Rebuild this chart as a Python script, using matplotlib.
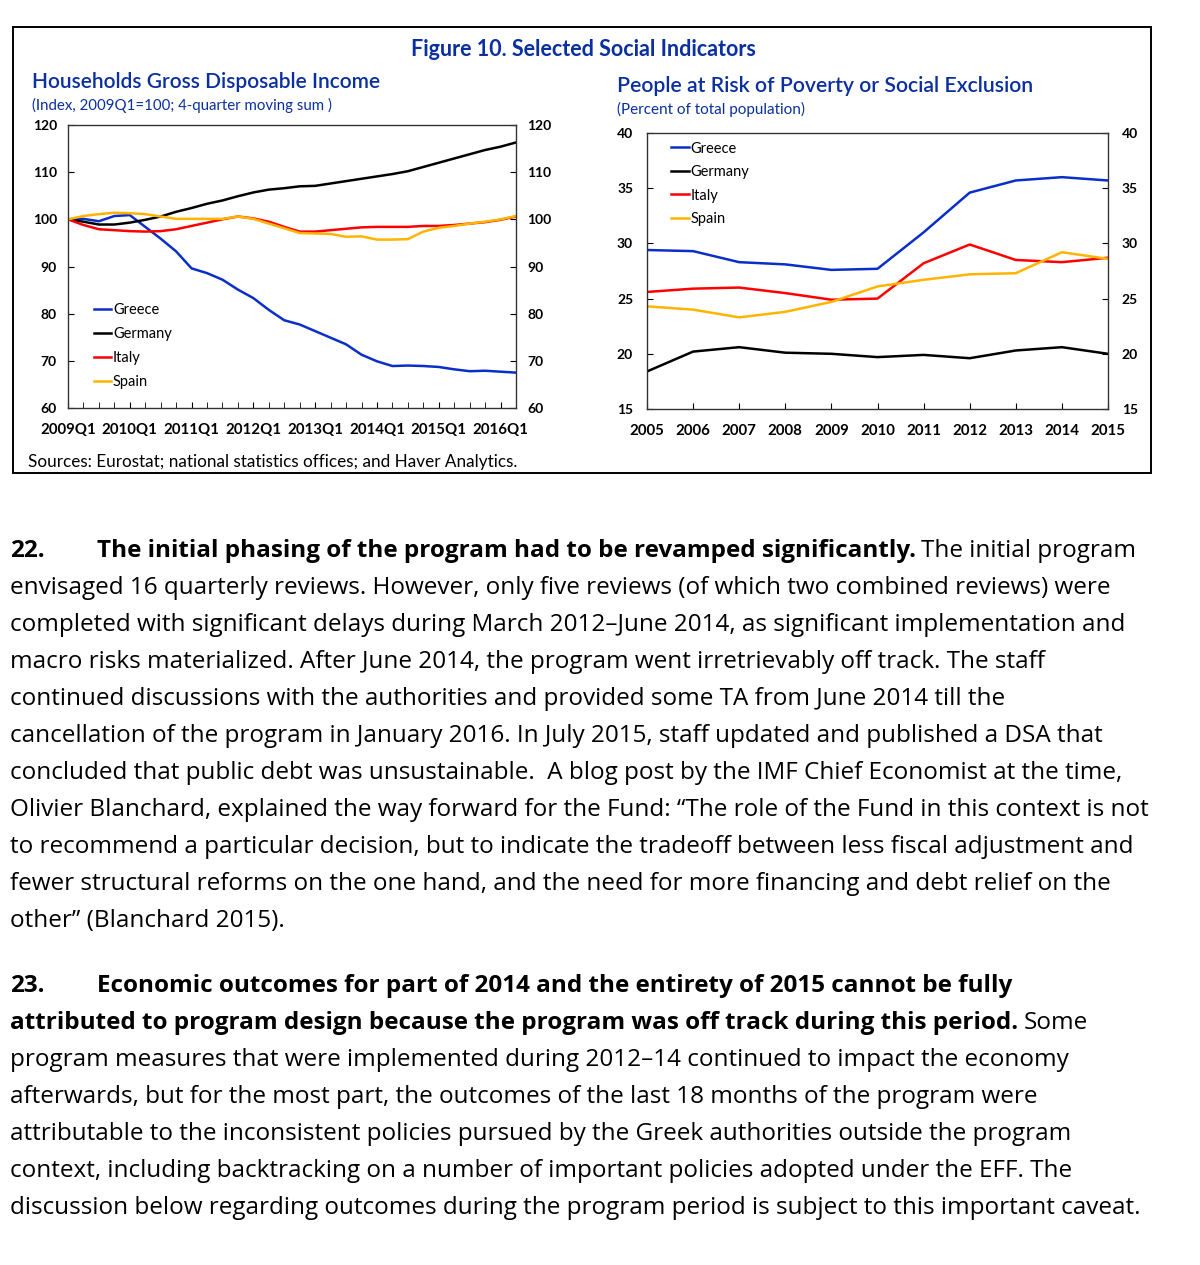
import matplotlib
matplotlib.use("Agg")
import matplotlib.pyplot as plt

# Households gross disposable income (index, 2009Q1=100), 2009Q1..2016Q2
quarters = [f"{y}Q{q}" for y in range(2009, 2017) for q in range(1, 5)][:30]
hh_greece = [100.0, 100.1, 99.6, 100.7, 100.9, 98.4, 95.9, 93.2, 89.6, 88.6,
             87.2, 85.1, 83.3, 80.8, 78.6, 77.7, 76.3, 74.9, 73.5, 71.3,
             69.9, 68.9, 69.0, 68.9, 68.7, 68.2, 67.8, 67.9, 67.7, 67.5]
hh_germany = [100.0, 99.5, 98.9, 98.9, 99.3, 99.9, 100.6, 101.6, 102.4, 103.3,
              104.0, 104.9, 105.7, 106.3, 106.6, 107.0, 107.1, 107.6, 108.1, 108.6,
              109.1, 109.6, 110.2, 111.1, 112.0, 112.9, 113.8, 114.7, 115.4, 116.3]
hh_italy = [100.0, 98.8, 97.9, 97.7, 97.5, 97.4, 97.5, 97.9, 98.6, 99.3,
            100.0, 100.6, 100.2, 99.5, 98.4, 97.4, 97.4, 97.7, 98.0, 98.3,
            98.4, 98.4, 98.4, 98.6, 98.6, 98.8, 99.1, 99.4, 99.9, 100.6]
hh_spain = [100.0, 100.7, 101.1, 101.4, 101.3, 101.1, 100.6, 100.1, 100.1, 100.1,
            100.1, 100.6, 100.1, 99.1, 98.1, 97.1, 97.0, 96.9, 96.3, 96.4,
            95.7, 95.7, 95.8, 97.4, 98.2, 98.6, 99.1, 99.5, 100.0, 100.7]

# People at risk of poverty or social exclusion (percent), 2005..2015
years = [2005, 2006, 2007, 2008, 2009, 2010, 2011, 2012, 2013, 2014, 2015]
pov_greece = [29.4, 29.3, 28.3, 28.1, 27.6, 27.7, 31.0, 34.6, 35.7, 36.0, 35.7]
pov_germany = [18.4, 20.2, 20.6, 20.1, 20.0, 19.7, 19.9, 19.6, 20.3, 20.6, 20.0]
pov_italy = [25.6, 25.9, 26.0, 25.5, 24.9, 25.0, 28.2, 29.9, 28.5, 28.3, 28.7]
pov_spain = [24.3, 24.0, 23.3, 23.8, 24.7, 26.1, 26.7, 27.2, 27.3, 29.2, 28.6]

countries = ["Greece", "Germany", "Italy", "Spain"]
colors = ["#0a2fc8", "#000000", "#ff0000", "#ffb400"]

BLUE = "#0a2f9e"
CHART_FONT = "Lato"
BODY_FONT = "Open Sans"

fig = plt.figure(figsize=(12, 12.65), dpi=100)
W, H = 1200, 1265


def fx(px):
    return px / W


def fy(py):
    return 1 - py / H


# frame around the figure block
fig.add_artist(plt.Rectangle((fx(13), fy(473)), fx(1151) - fx(13), fy(27) - fy(473),
                             transform=fig.transFigure, fill=False, lw=1.4, ec="black"))

fig.text(fx(583), fy(50), "Figure 10. Selected Social Indicators", ha="center", va="center",
         color=BLUE, fontsize=15.5, fontweight="bold", family=CHART_FONT)
fig.text(fx(32), fy(82), "Households Gross Disposable Income", ha="left", va="center",
         color=BLUE, fontsize=15, fontweight="semibold", family=CHART_FONT)
fig.text(fx(32), fy(105), "(Index, 2009Q1=100; 4-quarter moving sum )", ha="left", va="center",
         color=BLUE, fontsize=10.8, family=CHART_FONT)
fig.text(fx(617), fy(86), "People at Risk of Poverty or Social Exclusion", ha="left", va="center",
         color=BLUE, fontsize=15.3, fontweight="semibold", family=CHART_FONT)
fig.text(fx(617), fy(109), "(Percent of total population)", ha="left", va="center",
         color=BLUE, fontsize=11, family=CHART_FONT)
fig.text(fx(28), fy(462), "Sources: Eurostat; national statistics offices; and Haver Analytics.",
         ha="left", va="center", color="black", fontsize=12.3, family=CHART_FONT)


def style_axes(ax, ypad, xsize):
    for s in ax.spines.values():
        s.set_linewidth(1.0)
        s.set_color("#333333")
    ax.tick_params(axis="y", which="both", direction="in", length=4, left=True, right=True,
                   labelleft=True, labelright=True, labelsize=10, pad=ypad)
    ax.tick_params(axis="x", which="both", direction="in", length=4, labelsize=xsize, pad=11)
    for lab in ax.get_xticklabels() + ax.get_yticklabels():
        lab.set_fontweight("bold")
        lab.set_family(CHART_FONT)


# left chart
ax1 = fig.add_axes([fx(68), fy(408), fx(516) - fx(68), fy(125) - fy(408)])
series1 = [hh_greece, hh_germany, hh_italy, hh_spain]
xq = list(range(len(quarters)))
for name, vals, c in zip(countries, series1, colors):
    ax1.plot(xq, vals, color=c, lw=1.8, label=name)
ax1.set_xlim(0, len(quarters) - 1)
ax1.set_ylim(60, 120)
ax1.set_yticks([60, 70, 80, 90, 100, 110, 120])
ax1.set_xticks(xq[::4])
ax1.set_xticklabels(quarters[::4])
ax1.set_xticks(xq, minor=True)
style_axes(ax1, 8, 10.8)
leg1 = ax1.legend(loc="upper left", bbox_to_anchor=(0.045, 0.39), frameon=False,
                  handlelength=1.2, handletextpad=0.1, labelspacing=0.68,
                  prop={"family": CHART_FONT, "size": 10.5}, borderaxespad=0)

# right chart
ax2 = fig.add_axes([fx(647), fy(409), fx(1108) - fx(647), fy(133) - fy(409)])
series2 = [pov_greece, pov_germany, pov_italy, pov_spain]
for name, vals, c in zip(countries, series2, colors):
    ax2.plot(years, vals, color=c, lw=1.8, label=name)
ax2.set_xlim(years[0], years[-1])
ax2.set_ylim(15, 40)
ax2.set_yticks([15, 20, 25, 30, 35, 40])
ax2.set_xticks(years)
style_axes(ax2, 10, 10.8)
leg2 = ax2.legend(loc="upper left", bbox_to_anchor=(0.04, 0.99), frameon=False,
                  handlelength=1.2, handletextpad=0.1, labelspacing=0.65,
                  prop={"family": CHART_FONT, "size": 10.5}, borderaxespad=0)

# body text
para22 = [
    "envisaged 16 quarterly reviews. However, only five reviews (of which two combined reviews) were",
    "completed with significant delays during March 2012\u2013June 2014, as significant implementation and",
    "macro risks materialized. After June 2014, the program went irretrievably off track. The staff",
    "continued discussions with the authorities and provided some TA from June 2014 till the",
    "cancellation of the program in January 2016. In July 2015, staff updated and published a DSA that",
    "concluded that public debt was unsustainable.  A blog post by the IMF Chief Economist at the time,",
    "Olivier Blanchard, explained the way forward for the Fund: \u201cThe role of the Fund in this context is not",
    "to recommend a particular decision, but to indicate the tradeoff between less fiscal adjustment and",
    "fewer structural reforms on the one hand, and the need for more financing and debt relief on the",
    "other\u201d (Blanchard 2015).",
]
para23 = [
    "program measures that were implemented during 2012\u201314 continued to impact the economy",
    "afterwards, but for the most part, the outcomes of the last 18 months of the program were",
    "attributable to the inconsistent policies pursued by the Greek authorities outside the program",
    "context, including backtracking on a number of important policies adopted under the EFF. The",
    "discussion below regarding outcomes during the program period is subject to this important caveat.",
]

renderer = fig.canvas.get_renderer()

# choose font size so the widest line spans the same width as in the page
probe = fig.text(0, 0, para22[6], fontsize=18, family=BODY_FONT)
pw = probe.get_window_extent(renderer).width
probe.remove()
fs = 18 * (1147 - 10) / pw

LINE = 37


def put(x, y, s, bold=False):
    t = fig.text(fx(x), fy(y), s, ha="left", va="baseline", fontsize=fs,
                 fontweight="bold" if bold else "normal", family=BODY_FONT, color="black")
    return t.get_window_extent(renderer).x1


base = 557
put(10, base, "22.", bold=True)
x_end = put(97, base, "The initial phasing of the program had to be revamped significantly.", bold=True)
put(x_end + fs * 0.3, base, "The initial program")
for k, line in enumerate(para22, start=1):
    put(10, base + LINE * k, line)

base = 992
put(10, base, "23.", bold=True)
put(97, base, "Economic outcomes for part of 2014 and the entirety of 2015 cannot be fully", bold=True)
x_end = put(10, base + LINE, "attributed to program design because the program was off track during this period.", bold=True)
put(x_end + fs * 0.3, base + LINE, "Some")
for k, line in enumerate(para23, start=2):
    put(10, base + LINE * k, line)

fig.savefig("out.png", dpi=100)
